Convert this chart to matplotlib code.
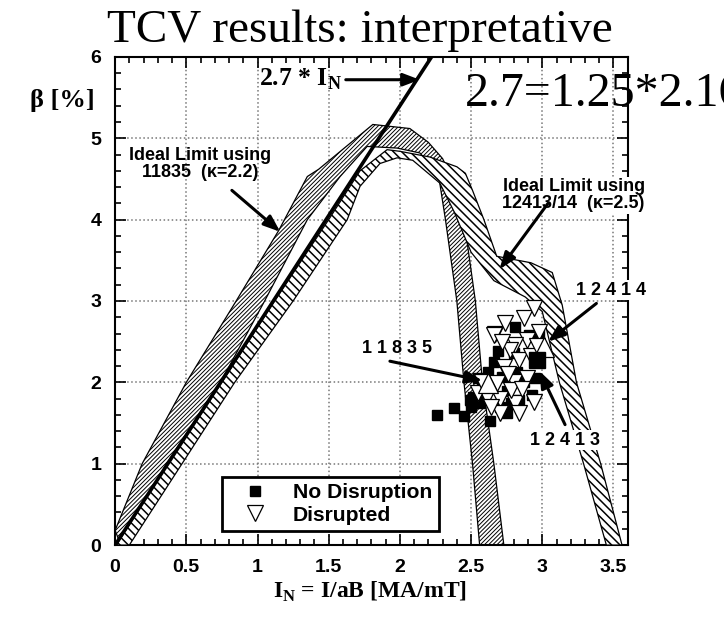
import matplotlib
matplotlib.use("Agg")
import matplotlib.pyplot as plt
from matplotlib.ticker import MultipleLocator, FormatStrFormatter

plt.rcParams['mathtext.fontset'] = 'custom'
plt.rcParams['mathtext.rm'] = 'Liberation Serif'
plt.rcParams['mathtext.bf'] = 'Liberation Serif:bold'

SERIF = 'Liberation Serif'
SANS = 'Liberation Sans'

# ideal limit band for shot 11835 (kappa=2.2): outer edge, then inner edge back
lim_11835_in = [0.0, 0.19, 0.50, 0.85, 1.15, 1.35, 1.43, 1.81, 2.07, 2.20, 2.30, 2.38, 2.45, 2.53, 2.58, 2.66, 2.73,
                2.56, 2.51, 2.45, 2.40, 2.32, 2.28, 2.24, 2.14, 1.98, 1.77, 1.58, 1.35, 1.05, 0.74, 0.36, 0.04]
lim_11835_beta = [0.18, 1.0, 2.0, 3.0, 3.87, 4.53, 4.62, 5.17, 5.12, 4.95, 4.75, 4.45, 4.0, 3.0, 2.0, 1.0, 0.0,
                  0.0, 1.0, 2.0, 3.0, 4.0, 4.45, 4.62, 4.82, 4.88, 4.90, 4.53, 4.0, 3.0, 2.0, 1.0, 0.0]

# ideal limit band for shots 12413/14 (kappa=2.5)
lim_12413_in = [0.01, 0.37, 0.75, 1.12, 1.50, 1.72, 1.91, 2.00, 2.21, 2.40, 2.46, 2.51, 2.59, 2.68, 2.92, 3.07, 3.14,
                3.24, 3.41, 3.56,
                3.45, 3.29, 3.12, 3.00, 2.88, 2.66, 2.50, 2.38, 2.28, 2.09, 1.98, 1.86, 1.72, 1.63, 1.25, 0.84, 0.47, 0.10]
lim_12413_beta = [0.0, 1.0, 2.0, 3.0, 4.0, 4.6, 4.86, 4.84, 4.77, 4.65, 4.57, 4.36, 4.0, 3.55, 3.47, 3.35, 2.95,
                  2.0, 1.0, 0.0,
                  0.0, 1.0, 2.0, 2.87, 3.05, 3.25, 3.6, 4.1, 4.45, 4.73, 4.76, 4.69, 4.41, 4.0, 3.0, 2.0, 1.0, 0.0]

# measured shots
nodis_in = [2.26, 2.38, 2.45, 2.49, 2.51, 2.56, 2.63, 2.62, 2.69, 2.72, 2.75, 2.75, 2.80, 2.81, 2.82, 2.84, 2.91,
            2.93, 2.98, 2.55, 2.58, 2.66, 2.70, 2.87, 2.95, 2.78, 2.50, 2.60]
nodis_beta = [1.60, 1.69, 1.59, 1.78, 1.82, 1.74, 1.52, 2.13, 2.38, 2.07, 1.89, 1.62, 2.36, 2.68, 2.13, 1.78, 2.58,
              1.84, 2.60, 2.05, 1.95, 2.25, 1.70, 2.00, 2.05, 1.75, 1.70, 1.80]
dis_in = [2.67, 2.74, 2.87, 2.94, 2.89, 2.81, 2.77, 2.84, 2.73, 2.80, 2.89, 2.68, 2.61, 2.70, 2.81, 2.94, 2.84,
          2.70, 2.55, 2.98, 2.66, 2.76, 2.92, 2.64, 2.78, 2.86, 2.58, 2.96, 2.72]
dis_beta = [2.60, 2.73, 2.79, 2.91, 2.52, 2.46, 2.40, 2.28, 2.19, 2.01, 2.05, 1.99, 1.82, 1.80, 1.74, 1.76, 1.62,
            1.62, 1.87, 2.62, 2.58, 2.10, 2.32, 1.70, 1.90, 1.92, 2.00, 2.45, 2.50]

# highlighted shots
shot_names = ['1 1 8 3 5', '1 2 4 1 4', '1 2 4 1 3']
shot_in = [2.62, 3.01, 2.96]
shot_beta = [1.99, 2.44, 2.28]

slope = 2.7
line_in = [0.0, 6.0 / slope]

fig = plt.figure(figsize=(7.24, 6.19), dpi=100)
ax = fig.add_axes([0.159, 0.1195, 0.708, 0.7885])

plt.rcParams['hatch.linewidth'] = 0.7
ax.fill(lim_11835_in, lim_11835_beta, facecolor='white', edgecolor='black', hatch='////////', lw=0.9, zorder=2)
plt.rcParams['hatch.linewidth'] = 1.1
ax.fill(lim_12413_in, lim_12413_beta, facecolor='white', edgecolor='black', hatch='\\\\\\\\', lw=0.9, zorder=3)
ax.plot(line_in, [slope * v for v in line_in], color='black', lw=2.6, zorder=4)

ax.plot(nodis_in, nodis_beta, 's', color='black', ms=6.5, ls='none', zorder=5, label='No Disruption')
ax.plot(dis_in, dis_beta, 'v', mfc='white', mec='black', mew=0.9, ms=11, ls='none', zorder=6, label='Disrupted')
ax.plot(shot_in[:2], shot_beta[:2], '^', mfc='white', mec='black', mew=0.9, ms=15, ls='none', zorder=7)
ax.plot(shot_in[2:], shot_beta[2:], 's', color='black', ms=12, ls='none', zorder=7)

ax.set_xlim(0, 3.6)
ax.set_ylim(0, 6)
ax.xaxis.set_major_locator(MultipleLocator(0.5))
ax.xaxis.set_minor_locator(MultipleLocator(0.1))
ax.yaxis.set_major_locator(MultipleLocator(1))
ax.yaxis.set_minor_locator(MultipleLocator(0.2))
ax.xaxis.set_major_formatter(FormatStrFormatter('%g'))
ax.yaxis.set_major_formatter(FormatStrFormatter('%g'))
ax.tick_params(which='both', direction='in', top=True, right=True, width=1.2)
ax.tick_params(which='major', length=8, pad=10)
ax.tick_params(which='minor', length=4)
for lab in ax.get_xticklabels() + ax.get_yticklabels():
    lab.set_fontfamily(SANS)
    lab.set_fontweight('bold')
    lab.set_fontsize(14)
for sp in ax.spines.values():
    sp.set_linewidth(1.5)
ax.grid(True, which='major', color='#777777', ls=':', lw=1.1, zorder=1)

arrow = dict(arrowstyle='-|>,head_length=1.0,head_width=0.38', color='black', lw=2.2, shrinkA=0, shrinkB=0)
lab_kw = dict(fontfamily=SANS, fontweight='bold', fontsize=13, ha='center', va='center')
white = dict(facecolor='white', edgecolor='none', pad=1)

ax.annotate('', xy=(2.14, 5.72), xytext=(1.62, 5.72), arrowprops=arrow, zorder=8)
ax.text(1.59, 5.72, r'2.7 * I$_\mathbf{N}$', fontfamily=SERIF, fontweight='bold', fontsize=18.5,
        ha='right', va='center', zorder=8)

ax.text(0.60, 4.68, 'Ideal Limit using\n11835  (\u03ba=2.2)', linespacing=1.0, zorder=8, **lab_kw)
ax.annotate('', xy=(1.16, 3.85), xytext=(0.82, 4.36), arrowprops=arrow, zorder=8)

ax.text(3.22, 4.30, 'Ideal Limit using\n12413/14  (\u03ba=2.5)', linespacing=1.0, zorder=8, bbox=white, **lab_kw)
ax.annotate('', xy=(2.70, 3.39), xytext=(3.04, 4.20), arrowprops=arrow, zorder=8)

ax.text(1.98, 2.42, shot_names[0], zorder=8, **lab_kw)
ax.annotate('', xy=(2.58, 2.02), xytext=(1.93, 2.26), arrowprops=arrow, zorder=8)

ax.text(3.48, 3.13, shot_names[1], zorder=8, bbox=white, **lab_kw)
ax.annotate('', xy=(3.04, 2.50), xytext=(3.38, 2.97), arrowprops=arrow, zorder=8)

ax.text(3.16, 1.29, shot_names[2], zorder=8, bbox=white, **lab_kw)
ax.annotate('', xy=(2.98, 2.14), xytext=(3.16, 1.48), arrowprops=arrow, zorder=8)

leg = ax.legend(loc='lower left', bbox_to_anchor=(0.209, 0.029), borderaxespad=0, fancybox=False, framealpha=1,
                edgecolor='black', borderpad=0.3, handlelength=2.5, handletextpad=0.55, labelspacing=0.15,
                prop=dict(family=SANS, weight='bold', size=15.2))
leg.get_frame().set_linewidth(2.0)
leg.set_zorder(9)

fig.text(0.497, 0.951, 'TCV results: interpretative', fontfamily=SERIF, fontsize=34, ha='center', va='center')
fig.text(0.642, 0.848, '2.7=1.25*2.16', fontfamily=SERIF, fontsize=34.5, ha='left', va='center')
fig.text(0.041, 0.838, '\u03b2 [%]', fontfamily=SERIF, fontweight='bold', fontsize=19, ha='left', va='center')
fig.text(0.511, 0.043, r'I$_\mathbf{N}$ = I/aB [MA/mT]', fontfamily=SERIF, fontweight='bold', fontsize=17,
         ha='center', va='center')

fig.savefig('out.png', dpi=100)
